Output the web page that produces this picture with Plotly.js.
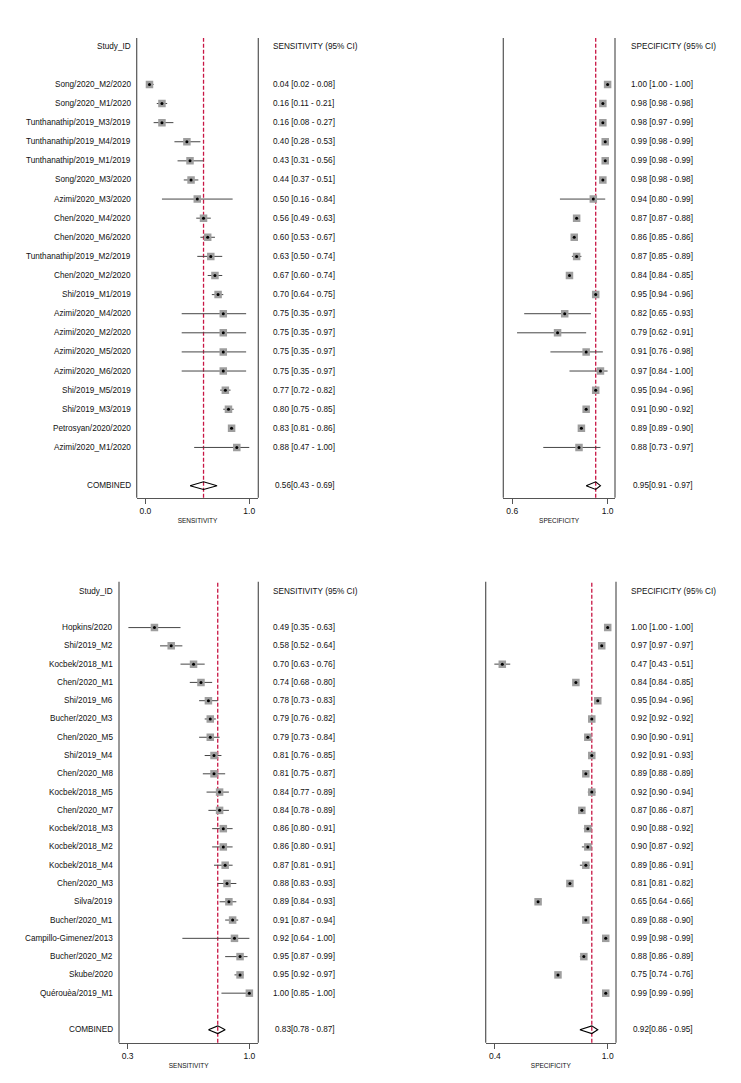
<!DOCTYPE html>
<html><head><meta charset="utf-8">
<script src="https://cdn.plot.ly/plotly-3.0.1.min.js"></script>
<style>html,body{margin:0;padding:0;background:#fff}</style>
</head><body><div id="chart" style="width:741px;height:1083px"></div>
<script>
// ---------- DATA: top forest plot ----------
const topStudies = ["Song/2020_M2/2020","Song/2020_M1/2020","Tunthanathip/2019_M3/2019","Tunthanathip/2019_M4/2019","Tunthanathip/2019_M1/2019","Song/2020_M3/2020","Azimi/2020_M3/2020","Chen/2020_M4/2020","Chen/2020_M6/2020","Tunthanathip/2019_M2/2019","Chen/2020_M2/2020","Shi/2019_M1/2019","Azimi/2020_M4/2020","Azimi/2020_M2/2020","Azimi/2020_M5/2020","Azimi/2020_M6/2020","Shi/2019_M5/2019","Shi/2019_M3/2019","Petrosyan/2020/2020","Azimi/2020_M1/2020"];
const topSens   = [0.04,0.16,0.16,0.40,0.43,0.44,0.50,0.56,0.60,0.63,0.67,0.70,0.75,0.75,0.75,0.75,0.77,0.80,0.83,0.88];
const topSensLo = [0.02,0.11,0.08,0.28,0.31,0.37,0.16,0.49,0.53,0.50,0.60,0.64,0.35,0.35,0.35,0.35,0.72,0.75,0.81,0.47];
const topSensHi = [0.08,0.21,0.27,0.53,0.56,0.51,0.84,0.63,0.67,0.74,0.74,0.75,0.97,0.97,0.97,0.97,0.82,0.85,0.86,1.00];
const topSpec   = [1.00,0.98,0.98,0.99,0.99,0.98,0.94,0.87,0.86,0.87,0.84,0.95,0.82,0.79,0.91,0.97,0.95,0.91,0.89,0.88];
const topSpecLo = [1.00,0.98,0.97,0.98,0.98,0.98,0.80,0.87,0.85,0.85,0.84,0.94,0.65,0.62,0.76,0.84,0.94,0.90,0.89,0.73];
const topSpecHi = [1.00,0.98,0.99,0.99,0.99,0.98,0.99,0.88,0.86,0.89,0.85,0.96,0.93,0.91,0.98,1.00,0.96,0.92,0.90,0.97];
const topCombSens = [0.56,0.43,0.69];
const topCombSpec = [0.95,0.91,0.97];
const topSensTicks = ["0.0","1.0"];
const topSpecTicks = ["0.6","1.0"];

// ---------- DATA: bottom forest plot ----------
const botStudies = ["Hopkins/2020","Shi/2019_M2","Kocbek/2018_M1","Chen/2020_M1","Shi/2019_M6","Bucher/2020_M3","Chen/2020_M5","Shi/2019_M4","Chen/2020_M8","Kocbek/2018_M5","Chen/2020_M7","Kocbek/2018_M3","Kocbek/2018_M2","Kocbek/2018_M4","Chen/2020_M3","Silva/2019","Bucher/2020_M1","Campillo-Gimenez/2013","Bucher/2020_M2","Skube/2020","Quérouèa/2019_M1"];
const botSens   = [0.49,0.58,0.70,0.74,0.78,0.79,0.79,0.81,0.81,0.84,0.84,0.86,0.86,0.87,0.88,0.89,0.91,0.92,0.95,0.95,1.00];
const botSensLo = [0.35,0.52,0.63,0.68,0.73,0.76,0.73,0.76,0.75,0.77,0.78,0.80,0.80,0.81,0.83,0.84,0.87,0.64,0.87,0.92,0.85];
const botSensHi = [0.63,0.64,0.76,0.80,0.83,0.82,0.84,0.85,0.87,0.89,0.89,0.91,0.91,0.91,0.93,0.93,0.94,1.00,0.99,0.97,1.00];
const botSpec   = [1.00,0.97,0.47,0.84,0.95,0.92,0.90,0.92,0.89,0.92,0.87,0.90,0.90,0.89,0.81,0.65,0.89,0.99,0.88,0.75,0.99];
const botSpecLo = [1.00,0.97,0.43,0.84,0.94,0.92,0.90,0.91,0.88,0.90,0.86,0.88,0.87,0.86,0.81,0.64,0.88,0.98,0.86,0.74,0.99];
const botSpecHi = [1.00,0.97,0.51,0.85,0.96,0.92,0.91,0.93,0.89,0.94,0.87,0.92,0.92,0.91,0.82,0.66,0.90,0.99,0.89,0.76,0.99];
const botCombSens = [0.83,0.78,0.87];
const botCombSpec = [0.92,0.86,0.95];
const botSensTicks = ["0.3","1.0"];
const botSpecTicks = ["0.4","1.0"];

// ---------- rendering ----------
const W = 741, H = 1083;
const FONT = "Liberation Sans, Arial, Helvetica, sans-serif";
const px = p => p / W;
const py = p => 1 - p / H;
const GRAY = "rgb(85,85,85)";
const RED = "rgb(200,22,68)";
const fmt = v => v.toFixed(2);

const traces = [], annotations = [], shapes = [];
const layout = {
  width: W, height: H, margin: {l:0, r:0, t:0, b:0},
  paper_bgcolor: "#fff", plot_bgcolor: "rgba(0,0,0,0)",
  showlegend: false, font: {family: FONT, color: "#111", size: 8},
  annotations, shapes
};

function xAxis(domain, range, anchor, tickvals, ticktext, title) {
  return {
    domain, range, anchor, showgrid:false, zeroline:false, fixedrange:true,
    showline:true, linecolor:GRAY, linewidth:1.2,
    ticks:"outside", ticklen:5, tickwidth:1, tickcolor:GRAY,
    tickvals, ticktext, tickfont:{size:8.5, color:"#111"},
    title:{text:title, font:{size:6.5, color:"#111"}, standoff:3}
  };
}

function panel(o) {
  const n = o.studies.length;
  const rows = o.studies.map((_, i) => i);
  const cRow = n + 1;
  layout[o.yName] = {domain:o.yDomain, range:o.yRange, visible:false, fixedrange:true};
  layout[o.xsName] = xAxis(o.xsDomain, o.xsRange, o.yId, o.xsTickVals, o.xsTicks, "SENSITIVITY");
  layout[o.xpName] = xAxis(o.xpDomain, o.xpRange, o.yId, o.xpTickVals, o.xpTicks, "SPECIFICITY");

  const parts = [
    {xa:o.xsId, est:o.sens, lo:o.sensLo, hi:o.sensHi, comb:o.combSens},
    {xa:o.xpId, est:o.spec, lo:o.specLo, hi:o.specHi, comb:o.combSpec}
  ];
  parts.forEach(p => {
    shapes.push({type:"line", layer:"below", xref:p.xa, x0:p.comb[0], x1:p.comb[0],
      yref:o.yId + " domain", y0:0, y1:1, line:{color:RED, width:1.3, dash:"4px,2px"}});
    [0, 1].forEach(d => shapes.push({type:"line", xref:p.xa + " domain", x0:d, x1:d,
      yref:o.yId + " domain", y0:0, y1:1, line:{color:GRAY, width:1.2}}));
    traces.push({type:"scatter", mode:"markers", xaxis:p.xa, yaxis:o.yId, x:p.est, y:rows,
      marker:{symbol:"square", size:7.5, color:"rgb(158,158,158)"},
      error_x:{type:"data", symmetric:false,
        array:p.est.map((v, i) => p.hi[i] - v), arrayminus:p.est.map((v, i) => v - p.lo[i]),
        color:"rgb(70,70,70)", thickness:1, width:0},
      hoverinfo:"skip"});
    traces.push({type:"scatter", mode:"markers", xaxis:p.xa, yaxis:o.yId, x:p.est, y:rows,
      marker:{symbol:"circle", size:3, color:"#000"}, hoverinfo:"skip"});
    const h = o.diamondH;
    traces.push({type:"scatter", mode:"lines", xaxis:p.xa, yaxis:o.yId,
      x:[p.comb[1], p.comb[0], p.comb[2], p.comb[0], p.comb[1]],
      y:[cRow, cRow - h, cRow, cRow + h, cRow],
      line:{color:"#000", width:1.1}, hoverinfo:"skip"});
  });

  // text columns (annotation box padding is ~2px, compensated)
  const ann = (x, y, text, anchor) => annotations.push({xref:"paper", yref:o.yId,
    x: px(anchor === "right" ? x + 2 : x - 2), y, text,
    xanchor:anchor, yanchor:"middle", showarrow:false, font:{size:8.2, color:"#111"}});
  ann(o.labelX, -2, "Study_ID", "right");
  ann(o.sensTextX, -2, "SENSITIVITY (95% CI)", "left");
  ann(o.specTextX, -2, "SPECIFICITY (95% CI)", "left");
  o.studies.forEach((s, i) => {
    ann(o.labelX, i, s, "right");
    ann(o.sensTextX, i, `${fmt(o.sens[i])} [${fmt(o.sensLo[i])} - ${fmt(o.sensHi[i])}]`, "left");
    ann(o.specTextX, i, `${fmt(o.spec[i])} [${fmt(o.specLo[i])} - ${fmt(o.specHi[i])}]`, "left");
  });
  ann(o.labelX, cRow, "COMBINED", "right");
  const c1 = o.combSens, c2 = o.combSpec;
  ann(o.sensTextX + 2.5, cRow, `${fmt(c1[0])}[${fmt(c1[1])} - ${fmt(c1[2])}]`, "left");
  ann(o.specTextX + 2, cRow, `${fmt(c2[0])}[${fmt(c2[1])} - ${fmt(c2[2])}]`, "left");
}

panel({
  studies:topStudies, sens:topSens, sensLo:topSensLo, sensHi:topSensHi,
  spec:topSpec, specLo:topSpecLo, specHi:topSpecHi, combSens:topCombSens, combSpec:topCombSpec,
  yName:"yaxis", yId:"y", yDomain:[py(497.7), py(38)], yRange:[21.63, -2.43],
  xsName:"xaxis", xsId:"x", xsDomain:[px(136.7), px(258.3)], xsRange:[-0.083, 1.087],
  xsTickVals:[0, 1], xsTicks:topSensTicks,
  xpName:"xaxis2", xpId:"x2", xpDomain:[px(503.3), px(615)], xpRange:[0.5623, 1.031],
  xpTickVals:[0.6, 1], xpTicks:topSpecTicks,
  labelX:131, sensTextX:272.7, specTextX:631, diamondH:0.2
});
panel({
  studies:botStudies, sens:botSens, sensLo:botSensLo, sensHi:botSensHi,
  spec:botSpec, specLo:botSpecLo, specHi:botSpecHi, combSens:botCombSens, combSpec:botCombSpec,
  yName:"yaxis2", yId:"y2", yDomain:[py(1042.7), py(581.7)], yRange:[22.71, -2.51],
  xsName:"xaxis3", xsId:"x3", xsDomain:[px(119), px(258.3)], xsRange:[0.2995, 1.048],
  xsTickVals:[0.346, 1], xsTicks:botSensTicks,
  xpName:"xaxis4", xpId:"x4", xpDomain:[px(485.7), px(616)], xpRange:[0.3866, 1.0417],
  xpTickVals:[0.433, 1], xpTicks:botSpecTicks,
  labelX:113.3, sensTextX:272.7, specTextX:631, diamondH:0.21
});

Plotly.newPlot("chart", traces, layout, {staticPlot:true, displayModeBar:false});
</script></body></html>
